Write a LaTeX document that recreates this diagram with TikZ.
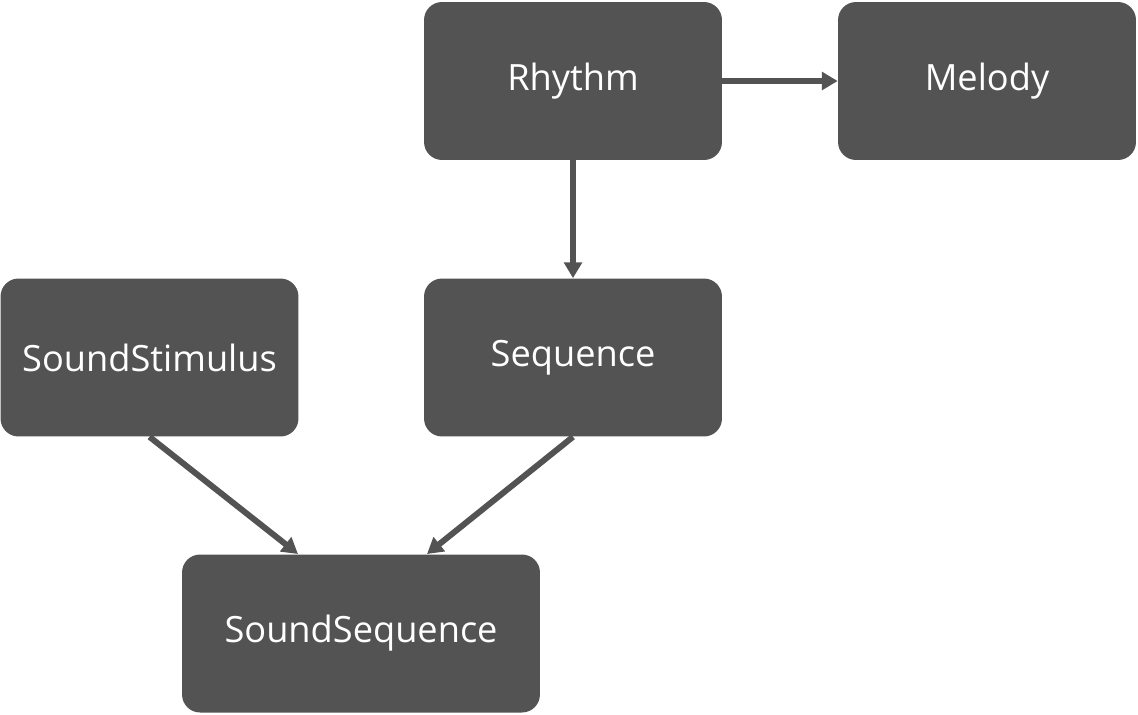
\documentclass[tikz,border=0pt]{standalone}
\usepackage{fontspec}
\setmainfont{Open Sans}
\usetikzlibrary{positioning,arrows.meta,calc}
\definecolor{boxgray}{HTML}{535353}
\tikzset{>={Triangle[length=9pt,width=10pt]}}
\tikzset{box/.style={fill=boxgray,text=white,rounded corners=0.36cm,
  minimum width=5.96cm,minimum height=3.16cm,inner sep=0pt,
  font=\fontsize{20.6}{24}\selectfont}}
\tikzset{link/.style={->,draw=boxgray,line width=3.4pt}}

\begin{document}
\begin{tikzpicture}[x=0.02cm,y=-0.02cm]
\useasboundingbox (0,0) rectangle (1138,714);
\node[box] (rhythm) at (573,81) {Rhythm};
\node[box] (melody) at (987,81) {Melody};
\node[box] (stimulus) at (149.5,357.5) {SoundStimulus};
\node[box] (sequence) at (573,357.5) {Sequence};
\node[box,minimum width=7.16cm] (soundseq) at (361,633.5) {SoundSequence};
\coordinate (inleft) at (298,554);
\coordinate (inright) at (427,554);
\draw[link] (rhythm) -- (melody);
\draw[link] (rhythm) -- (sequence);
\draw[link] (stimulus.south) -- (inleft);
\draw[link] (sequence.south) -- (inright);
\end{tikzpicture}
\end{document}
